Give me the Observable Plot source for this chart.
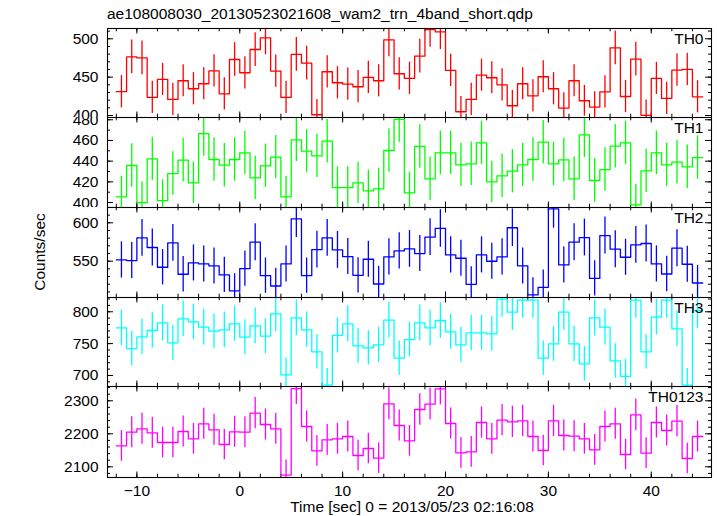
<!DOCTYPE html>
<html><head><meta charset="utf-8">
<script src="https://cdn.jsdelivr.net/npm/d3@7"></script>
<script src="https://cdn.jsdelivr.net/npm/@observablehq/plot@0.6"></script>
<style>
html,body{margin:0;padding:0;background:#fff;}
#chart{position:relative;width:717px;height:516px;font-family:"Liberation Sans",Arial,Helvetica,sans-serif;color:#000;}
#chart svg{position:absolute;left:0;}
.lbl{position:absolute;font-size:15.5px;line-height:1;white-space:nowrap;}
</style></head><body><div id="chart"></div>
<script>
// ---------- data ----------
const title = "ae108008030_20130523021608_wam2_trn_4band_short.qdp";
const xLabel = "Time [sec] 0 = 2013/05/23 02:16:08";
const yLabel = "Counts/sec";
const panelNames = ["TH0", "TH1", "TH2", "TH3", "TH0123"];
const xTicks = [-10, 0, 10, 20, 30, 40];
const binHalf = 0.5;
const time = [-11.5,-10.5,-9.5,-8.5,-7.5,-6.5,-5.5,-4.5,-3.5,-2.5,-1.5,-0.5,0.5,1.5,2.5,3.5,4.5,5.5,6.5,7.5,8.5,9.5,10.5,11.5,12.5,13.5,14.5,15.5,16.5,17.5,18.5,19.5,20.5,21.5,22.5,23.5,24.5,25.5,26.5,27.5,28.5,29.5,30.5,31.5,32.5,33.5,34.5,35.5,36.5,37.5,38.5,39.5,40.5,41.5,42.5,43.5,44.5];

const th0 = [431,476.5,475.2,423.6,447,421,445.3,434.9,441.4,458.3,428.3,473,455.7,486,501.3,457.9,423.6,479.6,468.3,401,457,442.7,441,437.5,449.6,445.3,498.7,454.4,448.5,
  477.4,512,509,458.7,404.9,420.9,452.6,449.2,440,412.7,441.4,425.7,450.5,434.9,409.7,445.3,419.2,411,430.9,488.2,424.8,473.4,400.2,448.3,422.2,459.1,460,424.4];
const th0Err = [21,22,22,21,21,21,21,21,21,21,21,22,21,22,22,21,21,22,22,20,21,21,21,21,21,21,22,21,21,
  22,23,23,21,20,21,21,21,21,20,21,21,21,21,20,21,20,20,21,22,21,22,20,21,21,21,21,21];

const th1 = [405.5,435.8,400,442.2,401.9,428,440.9,419,466.7,441.6,436.1,441.6,448,423.8,435.5,443.9,405.5,460.6,449.6,445.1,459.3,414.5,414.5,419,411.2,413.2,450.3,480.3,409.3,
  454.2,422.9,448,448,436.4,437.4,457.7,420,425.8,430.3,436.4,441.6,458.4,437.4,441.2,422.9,465.5,421.3,431.9,454.5,457.7,397.7,430.6,448,436.4,439,434.5,443.5];
const th1Err = [20,21,20,21,20,21,21,20,22,21,21,21,21,21,21,21,20,21,21,21,21,20,20,20,20,20,21,22,20,
  21,21,21,21,21,21,21,20,21,21,21,21,21,21,21,21,22,21,21,21,21,20,21,21,21,21,21,21];

const th2 = [551.6,550.8,580.4,567.8,542.1,573.9,533,547.7,546.4,543.8,532.1,511.2,540.3,574.7,531.2,517.7,546.4,605.2,531.2,565.1,580.4,564.7,556,531.6,552.5,520.3,555.6,563.4,566,
  559.9,581.3,592.6,558.2,553.8,519.9,558.2,549.9,555.6,593.5,543.8,506,516,618,545.1,574.7,580.8,527.6,583.4,565.6,555.1,571.2,573,546.4,533.3,566.9,546,521.6];
const th2Err = [23.5,23.5,24,24,23,24,23,23.5,23.5,23.5,23,22.5,23,24,23,23,23.5,24.5,23,24,24,24,23.5,23,23.5,23,23.5,23.5,24,
  23.5,24,24.5,23.5,23.5,23,23.5,23.5,23.5,24.5,23.5,22.5,22.5,25,23.5,24,24,23,24,24,23.5,24,24,23.5,23,24,23.5,23];

const th3 = [774.8,742.3,760.6,770.6,782.7,751.2,789,784.2,775.8,769.5,771.7,781.1,760.1,777.9,761.7,796.8,700.9,790.5,771.7,737.1,685,762.8,781.1,746.5,743.3,748.1,786.8,727.1,756.4,
  782.7,774.8,786.3,768.5,748.1,766.9,766.9,765.4,819.9,799.4,818.3,818.3,727.1,749.6,799.4,749.6,718.2,790.5,775.8,722.8,698.7,818.3,737.1,791.6,818.3,773.3,685,802];
const th3Err = [28,27,27.5,28,28,27.5,28,28,28,27.5,28,28,27.5,28,27.5,28,26.5,28,28,27,26,27.5,28,27.5,27,27.5,28,27,27.5,
  28,28,28,27.5,27.5,27.5,27.5,27.5,28.5,28.5,28.5,28.5,27,27.5,28.5,27.5,27,28,28,27,26.5,28.5,27,28,28.5,28,26,28.5];

const th0123 = [2163.5,2205,2215.2,2202.9,2173.6,2173.6,2207,2184.8,2230.2,2212,2167.6,2206,2205,2262.6,2228.2,2215.2,2075,2337,2222.1,2148.4,2181.7,2184.8,2191.8,2134.3,2155.5,2126.2,2290.7,2225.1,2178.7,
  2273.6,2289.8,2336.2,2231.2,2142.3,2145.4,2234.2,2184.8,2241.3,2236.2,2239.3,2191.8,2149.4,2239.3,2194.8,2192.8,2184.8,2151.4,2222.1,2230.2,2137.3,2257.6,2141.3,2234.2,2210,2238.3,2125.2,2191.8];
const th0123Err = [46.5,47,47,47,46.5,46.5,47,46.5,47,47,46.5,47,47,47.5,47,47,45.5,48.5,47,46.5,46.5,46.5,47,46,46.5,46,48,47,46.5,
  47.5,48,48.5,47,46.5,46.5,47,46.5,47.5,47.5,47.5,47,46.5,47.5,47,47,46.5,46.5,47,47,46,47.5,46.5,47,47,47.5,46,47];

const yTicks0 = [400, 450, 500];
const yTicks1 = [400, 420, 440, 460, 480];
const yTicks2 = [550, 600];
const yTicks3 = [700, 750, 800];
const yTicks4 = [2100, 2200, 2300];

// ---------- layout / style ----------
const W = 717, H = 516;
const frameLeft = 107, frameRight = 711;
const panelTops = [28, 117, 207, 297, 386];
const plotBottom = 477;
const xDomain = [-12.855, 45.855];
const colors = ["#ff0000", "#00ff00", "#0000ff", "#00ffff", "#ff00ff"];
const yDomains = [[397.4, 513.4], [395.2, 482.2], [502.7, 619.9], [682.7, 822.4], [2067.6, 2343.3]];
const yMinorSteps = [10, 10, 10, 10, 20];
const FS = 15.5;
const fontFamily = '"Liberation Sans", Arial, Helvetica, sans-serif';

const series = [
  {name: panelNames[0], values: th0, errors: th0Err, ticks: yTicks0},
  {name: panelNames[1], values: th1, errors: th1Err, ticks: yTicks1},
  {name: panelNames[2], values: th2, errors: th2Err, ticks: yTicks2},
  {name: panelNames[3], values: th3, errors: th3Err, ticks: yTicks3},
  {name: panelNames[4], values: th0123, errors: th0123Err, ticks: yTicks4}
];

const chart = document.getElementById("chart");

function addLabel(text, css) {
  const d = document.createElement("div");
  d.className = "lbl";
  d.textContent = text;
  Object.assign(d.style, css);
  chart.appendChild(d);
}

const xMinor = d3.range(-12, 46, 2);
const fw = frameRight - frameLeft;

series.forEach((s, k) => {
  const top = panelTops[k];
  const bottom = k < 4 ? panelTops[k + 1] : plotBottom;
  const ph = bottom - top;
  const first = k === 0, last = k === series.length - 1;
  const mT = first ? top : 0;
  const mB = last ? H - plotBottom : 0;
  const dom = yDomains[k];
  const step = yMinorSteps[k];
  const yMinor = d3.range(Math.ceil(dom[0] / step) * step, dom[1], step);
  const rows = time.map((t, i) => ({t, v: s.values[i], e: s.errors[i]}));
  const steps = rows.flatMap(d => [{x: d.t - binHalf, y: d.v}, {x: d.t + binHalf, y: d.v}]);
  const marks = [
    Plot.tickX(xMinor, {x: d => d, insetBottom: ph - 3.3, stroke: "#000"}),
    Plot.tickX(xMinor, {x: d => d, insetTop: ph - 3.3, stroke: "#000"}),
    Plot.tickX(xTicks, {x: d => d, insetBottom: ph - 5.5, stroke: "#000"}),
    Plot.tickX(xTicks, {x: d => d, insetTop: ph - 5.5, stroke: "#000"}),
    Plot.tickY(yMinor, {y: d => d, insetRight: fw - 3, stroke: "#000"}),
    Plot.tickY(yMinor, {y: d => d, insetLeft: fw - 3, stroke: "#000"}),
    Plot.tickY(s.ticks, {y: d => d, insetRight: fw - 6, stroke: "#000"}),
    Plot.tickY(s.ticks, {y: d => d, insetLeft: fw - 6, stroke: "#000"}),
    Plot.line(steps, {x: "x", y: "y", stroke: colors[k], strokeWidth: 1.3, clip: true}),
    Plot.ruleX(rows, {x: "t", y1: d => d.v - d.e, y2: d => d.v + d.e, stroke: colors[k], strokeWidth: 1.3, clip: true}),
    Plot.frame({stroke: "#000", strokeWidth: 1.1}),
    Plot.axisY(s.ticks, {anchor: "left", tickSize: 0, tickPadding: 9, fontSize: FS, label: null, tickFormat: d => String(d)}),
    Plot.text([s.name], {frameAnchor: "top-right", dx: -8, dy: 4.5, lineAnchor: "top", textAnchor: "end", fontSize: FS, fill: "#000"})
  ];
  if (last) marks.push(Plot.axisX(xTicks, {anchor: "bottom", tickSize: 0, tickPadding: 7.5, fontSize: FS, label: null}));
  const svg = Plot.plot({
    width: W,
    height: ph + mT + mB,
    marginLeft: frameLeft,
    marginRight: W - frameRight,
    marginTop: mT,
    marginBottom: mB,
    x: {domain: xDomain, axis: last ? undefined : null},
    y: {domain: dom},
    style: {fontFamily, fontSize: FS + "px", overflow: "hidden", background: "transparent", color: "#000"},
    marks
  });
  svg.style.position = "absolute";
  svg.style.top = (first ? 0 : top) + "px";
  svg.style.left = "0px";
  chart.appendChild(svg);
});

addLabel(title, {left: frameLeft + "px", top: "5.5px"});
addLabel(xLabel, {left: ((frameLeft + frameRight) / 2 + 3) + "px", top: "498.5px", transform: "translateX(-50%)"});
addLabel(yLabel, {left: "40px", top: "252px", transform: "translate(-50%,-50%) rotate(-90deg)"});
</script>
</body></html>
